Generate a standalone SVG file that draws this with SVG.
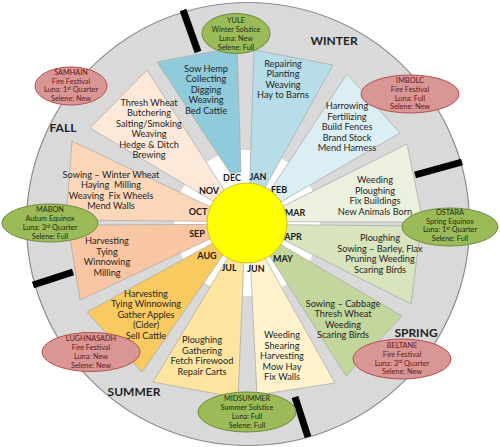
<svg xmlns="http://www.w3.org/2000/svg" width="500" height="447" viewBox="0 0 500 447">
<style>
.wd{stroke:#a6a6a6;stroke-width:0.7}
.act{font-family:Lato,"Liberation Sans",sans-serif;font-size:9.2px;fill:#1f1f1f;text-anchor:middle}
.mon{font-family:Lato,"Liberation Sans",sans-serif;font-weight:bold;font-size:9px;fill:#1a1a1a;text-anchor:middle}
.sea{font-family:Lato,"Liberation Sans",sans-serif;font-weight:bold;font-size:12px;fill:#1f1f1f;text-anchor:middle}
.ft{font-family:Lato,"Liberation Sans",sans-serif;font-size:7.3px;text-anchor:middle}
.g ellipse{fill:#9bbb59;stroke:#71893f;stroke-width:1}
.g text{fill:#1f2a12}
.r ellipse{fill:#d99694;stroke:#b0504d;stroke-width:1}
.r text{fill:#5c1a1a}
.bar{stroke:#000;stroke-width:7}
.sup{font-size:4.8px}
</style>
<rect width="500" height="447" fill="#fff"/>
<circle cx="248" cy="224" r="221.5" fill="#d9d9d9" stroke="#8c8c8c" stroke-width="1.2"/>
<g id="connectors">
<line class="bar" x1="183" y1="10" x2="198" y2="52"/>
<line class="bar" x1="415" y1="175" x2="462" y2="162"/>
<line class="bar" x1="295" y1="397" x2="308" y2="437"/>
<line class="bar" x1="33" y1="285" x2="73" y2="272"/>
</g>
<circle cx="247" cy="223" r="73" fill="#fff"/>

<g id="dec">
<polygon class="wd" fill="#8fcbdb" points="157,62 237,47 241,172 231,174"/>
<text class="act" x="206" y="71.5"><tspan x="206">Sow Hemp</tspan><tspan x="206" dy="10.5">Collecting</tspan><tspan x="206" dy="10.5">Digging</tspan><tspan x="206" dy="10.5">Weaving</tspan><tspan x="206" dy="10.5">Bed Cattle</tspan></text>
<text class="mon" x="232" y="181">DEC</text>
</g>
<g id="jan">
<polygon class="wd" fill="#b7dee8" points="254,50 333,65 248.6,217.2"/>
<text class="act" x="283" y="66.5"><tspan x="283">Repairing</tspan><tspan x="283" dy="10.5">Planting</tspan><tspan x="283" dy="10.5">Weaving</tspan><tspan x="283" dy="10.5">Hay to Barns</tspan></text>
<text class="mon" x="258" y="180">JAN</text>
</g>
<g id="feb">
<polygon class="wd" fill="#dbeef4" points="347,74 400,133 251.4,218.9"/>
<text class="act" x="347" y="109"><tspan x="347">Harrowing</tspan><tspan x="347" dy="10.5">Fertilizing</tspan><tspan x="347" dy="10.5">Build Fences</tspan><tspan x="347" dy="10.5">Brand Stock</tspan><tspan x="347" dy="10.5">Mend Harness</tspan></text>
<text class="mon" x="279" y="193">FEB</text>
</g>
<g id="mar">
<polygon class="wd" fill="#ebf1de" points="407,144 423,222 252.8,221.6"/>
<text class="act" x="375" y="183.3"><tspan x="375">Weeding</tspan><tspan x="375" dy="10.5">Ploughing</tspan><tspan x="375" dy="10.5">Fix Buildings</tspan><tspan x="375" dy="10.5">New Animals Born</tspan></text>
<text class="mon" x="295" y="216">MAR</text>
</g>
<g id="apr">
<polygon class="wd" fill="#d7e4bd" points="421,226 411,304 252.8,224.4"/>
<text class="act" x="380" y="241"><tspan x="380">Ploughing</tspan><tspan x="380" dy="10.5">Sowing – Barley, Flax</tspan><tspan x="380" dy="10.5">Pruning Weeding</tspan><tspan x="380" dy="10.5">Scaring Birds</tspan></text>
<text class="mon" x="293" y="240">APR</text>
</g>
<g id="may">
<polygon class="wd" fill="#c3d69b" points="402,316 346,376 251.3,227.2"/>
<text class="act" x="343" y="306.5"><tspan x="343">Sowing – Cabbage</tspan><tspan x="343" dy="10.5">Thresh Wheat</tspan><tspan x="343" dy="10.5">Weeding</tspan><tspan x="343" dy="10.5">Scaring Birds</tspan></text>
<text class="mon" x="283" y="262">MAY</text>
</g>
<g id="jun">
<polygon class="wd" fill="#fff2cc" points="335,383 257,395 248.7,228.8"/>
<text class="act" x="282" y="338.3"><tspan x="282">Weeding</tspan><tspan x="282" dy="10.5">Shearing</tspan><tspan x="282" dy="10.5">Harvesting</tspan><tspan x="282" dy="10.5">Mow Hay</tspan><tspan x="282" dy="10.5">Fix Walls</tspan></text>
<text class="mon" x="256" y="272">JUN</text>
</g>
<g id="jul">
<polygon class="wd" fill="#fde5a0" points="238,398 153,382 245.2,228.7"/>
<text class="act" x="202" y="343.3"><tspan x="202">Ploughing</tspan><tspan x="202" dy="10.5">Gathering</tspan><tspan x="202" dy="10.5">Fetch Firewood</tspan><tspan x="202" dy="10.5">Repair Carts</tspan></text>
<text class="mon" x="229" y="271">JUL</text>
</g>
<g id="aug">
<polygon class="wd" fill="#f9ca5f" points="142,372 87,312 242.5,227"/>
<text class="act" x="146" y="296.5"><tspan x="146">Harvesting</tspan><tspan x="146" dy="10.5">Tying Winnowing</tspan><tspan x="146" dy="10.5">Gather Apples</tspan><tspan x="146" dy="10.5">(Cider)</tspan><tspan x="146" dy="10.5">Sell Cattle</tspan></text>
<text class="mon" x="207" y="259">AUG</text>
</g>
<g id="sep">
<polygon class="wd" fill="#f8c6a2" points="80,300 68,225 241.2,224.3"/>
<text class="act" x="107" y="244.3"><tspan x="107">Harvesting</tspan><tspan x="107" dy="10.5">Tying</tspan><tspan x="107" dy="10.5">Winnowing</tspan><tspan x="107" dy="10.5">Milling</tspan></text>
<text class="mon" x="197" y="237">SEP</text>
</g>
<g id="oct">
<polygon class="wd" fill="#fbd6b8" points="66,220 72,141 241.2,221.6"/>
<text class="act" x="111" y="177.5"><tspan x="111">Sowing – Winter Wheat</tspan><tspan x="111" dy="10.5">Haying&#160; Milling</tspan><tspan x="111" dy="10.5">Weaving&#160; Fix Wheels</tspan><tspan x="111" dy="10.5">Mend Walls</tspan></text>
<text class="mon" x="198" y="215">OCT</text>
</g>
<g id="nov">
<polygon class="wd" fill="#fde9d9" points="90,128 147,70 242.7,218.8"/>
<text class="act" x="149" y="105.5"><tspan x="149">Thresh Wheat</tspan><tspan x="149" dy="10.5">Butchering</tspan><tspan x="149" dy="10.5">Salting/Smoking</tspan><tspan x="149" dy="10.5">Weaving</tspan><tspan x="149" dy="10.5">Hedge &amp; Ditch</tspan><tspan x="149" dy="10.5">Brewing</tspan></text>
<text class="mon" x="209" y="194">NOV</text>
</g>

<g id="sun">
<circle cx="247" cy="223" r="40" fill="#ffff00" stroke="#c9b800" stroke-width="0.8"/>
</g>

<g id="seasons">
<text class="sea" x="334" y="45">WINTER</text>
<text class="sea" x="63" y="132">FALL</text>
<text class="sea" x="416" y="337">SPRING</text>
<text class="sea" x="134" y="396">SUMMER</text>
</g>

<g id="yule" class="g">
<ellipse cx="236" cy="33.5" rx="34" ry="20"/>
<text class="ft" x="236" y="22.5"><tspan x="236">YULE</tspan><tspan x="236" dy="9">Winter Solstice</tspan><tspan x="236" dy="9">Luna: New</tspan><tspan x="236" dy="9">Selene: Full</tspan></text>
</g>
<g id="samhain" class="r">
<ellipse cx="71" cy="86" rx="36" ry="19"/>
<text class="ft" x="71" y="75.3"><tspan x="71">SAMHAIN</tspan><tspan x="71" dy="8.4">Fire Festival</tspan><tspan x="71" dy="8.4">Luna: 1<tspan class="sup" dy="-2.5">st</tspan><tspan dy="2.5"> Quarter</tspan></tspan><tspan x="71" dy="8.4">Selene: New</tspan></text>
</g>
<g id="imbolc" class="r">
<ellipse cx="410" cy="94" rx="49" ry="19"/>
<text class="ft" x="410" y="83.3"><tspan x="410">IMBOLC</tspan><tspan x="410" dy="8.6">Fire Festival</tspan><tspan x="410" dy="8.6">Luna: Full</tspan><tspan x="410" dy="8.6">Selene: New</tspan></text>
</g>
<g id="ostara" class="g">
<ellipse cx="450" cy="227" rx="48" ry="19"/>
<text class="ft" x="450" y="215.3"><tspan x="450">OSTARA</tspan><tspan x="450" dy="8.4">Spring Equinox</tspan><tspan x="450" dy="8.4">Luna: 1<tspan class="sup" dy="-2.5">st</tspan><tspan dy="2.5"> Quarter</tspan></tspan><tspan x="450" dy="8.4">Selene: Full</tspan></text>
</g>
<g id="mabon" class="g">
<ellipse cx="50" cy="223" rx="48" ry="19"/>
<text class="ft" x="50" y="212.3"><tspan x="50">MABON</tspan><tspan x="50" dy="9">Autum Equinox</tspan><tspan x="50" dy="9">Luna: 3<tspan class="sup" dy="-2.5">rd</tspan><tspan dy="2.5"> Quarter</tspan></tspan><tspan x="50" dy="9">Selene: Full</tspan></text>
</g>
<g id="lughnasadh" class="r">
<ellipse cx="91" cy="352" rx="49" ry="19.5"/>
<text class="ft" x="91" y="341.3"><tspan x="91">LUGHNASADH</tspan><tspan x="91" dy="9">Fire Festival</tspan><tspan x="91" dy="9">Luna: New</tspan><tspan x="91" dy="9">Selene: New</tspan></text>
</g>
<g id="beltane" class="r">
<ellipse cx="402" cy="359" rx="49" ry="20"/>
<text class="ft" x="402" y="348.3"><tspan x="402">BELTANE</tspan><tspan x="402" dy="8.7">Fire Festival</tspan><tspan x="402" dy="8.7">Luna: 3<tspan class="sup" dy="-2.5">rd</tspan><tspan dy="2.5"> Quarter</tspan></tspan><tspan x="402" dy="8.7">Selene: New</tspan></text>
</g>
<g id="midsummer" class="g">
<ellipse cx="247" cy="412" rx="49" ry="20"/>
<text class="ft" x="247" y="401.3"><tspan x="247">MIDSUMMER</tspan><tspan x="247" dy="9">Summer Solstice</tspan><tspan x="247" dy="9">Luna: Full</tspan><tspan x="247" dy="9">Selene: Full</tspan></text>
</g>
</svg>
